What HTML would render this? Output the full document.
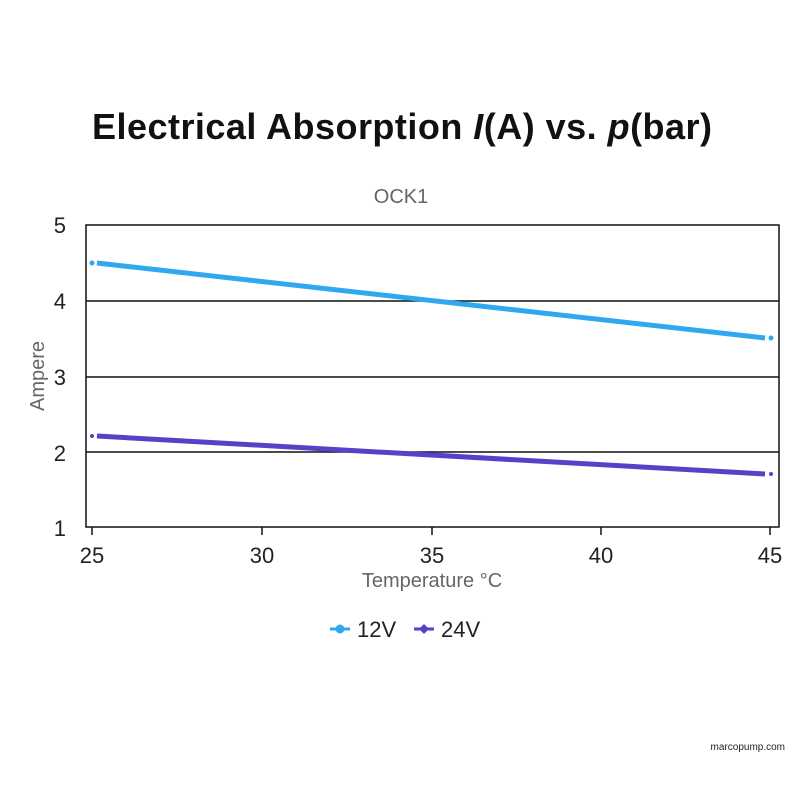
<!DOCTYPE html>
<html><head><meta charset="utf-8"><style>
html,body{margin:0;padding:0;background:#fff;}
svg{display:block;font-family:"Liberation Sans",Arial,sans-serif;}
</style></head><body>
<svg width="803" height="803" viewBox="0 0 803 803" xmlns="http://www.w3.org/2000/svg">
<rect width="803" height="803" fill="#fff"/>
<text x="92" y="139" textLength="620" lengthAdjust="spacing" font-size="36" font-weight="bold" fill="#111">Electrical Absorption <tspan font-style="italic">I</tspan>(A) vs. <tspan font-style="italic">p</tspan>(bar)</text>
<text x="401" y="203" text-anchor="middle" font-size="20" fill="#666">OCK1</text>
<g stroke="#111" stroke-width="1.5" fill="none">
<rect x="86" y="225" width="693" height="302"/>
<line x1="86" y1="301" x2="779" y2="301"/>
<line x1="86" y1="377" x2="779" y2="377"/>
<line x1="86" y1="452" x2="779" y2="452"/>
<line x1="92" y1="527" x2="92" y2="535"/>
<line x1="262" y1="527" x2="262" y2="535"/>
<line x1="432" y1="527" x2="432" y2="535"/>
<line x1="601" y1="527" x2="601" y2="535"/>
<line x1="770" y1="527" x2="770" y2="535"/>
</g>
<g font-size="22" fill="#222" text-anchor="end">
<text x="66" y="233">5</text><text x="66" y="309">4</text><text x="66" y="385">3</text><text x="66" y="461">2</text><text x="66" y="536">1</text>
</g>
<g font-size="22" fill="#222" text-anchor="middle">
<text x="92" y="563">25</text><text x="262" y="563">30</text><text x="432" y="563">35</text><text x="601" y="563">40</text><text x="770" y="563">45</text>
</g>
<text x="432" y="587" text-anchor="middle" font-size="20" fill="#666">Temperature °C</text>
<text transform="translate(44,376) rotate(-90)" text-anchor="middle" font-size="20" fill="#666">Ampere</text>
<line x1="97" y1="263" x2="765" y2="338" stroke="#2fa8f0" stroke-width="5"/>
<circle cx="92" cy="263" r="2.5" fill="#2fa8f0"/><circle cx="771" cy="338" r="2.5" fill="#2fa8f0"/>
<line x1="97" y1="436" x2="765" y2="474" stroke="#5a3fc8" stroke-width="5"/>
<circle cx="92" cy="436" r="2" fill="#5a3fc8"/><circle cx="771" cy="474" r="2" fill="#5a3fc8"/>
<line x1="330" y1="629" x2="350" y2="629" stroke="#2fa8f0" stroke-width="3"/>
<circle cx="340" cy="629" r="4.5" fill="#2fa8f0"/>
<text x="357" y="637" font-size="22" fill="#222">12V</text>
<line x1="414" y1="629" x2="434" y2="629" stroke="#5a3fc8" stroke-width="3"/>
<path d="M424 624 L429 629 L424 634 L419 629Z" fill="#5a3fc8"/>
<text x="441" y="637" font-size="22" fill="#222">24V</text>
<text x="785" y="750" text-anchor="end" font-size="10" fill="#222">marcopump.com</text>
</svg>
</body></html>
